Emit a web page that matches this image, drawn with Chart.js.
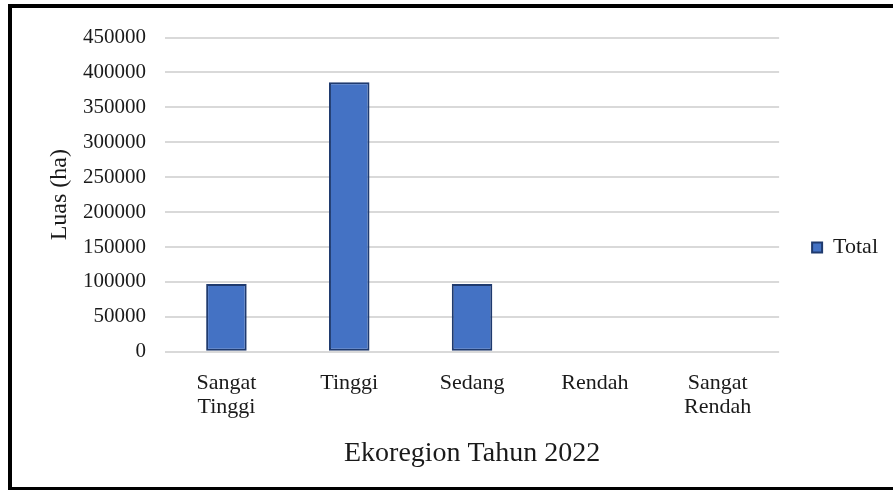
<!DOCTYPE html>
<html lang="id">
<head>
    <meta charset="UTF-8">
    <title>Ekoregion Tahun 2022</title>
    <script src="https://cdn.jsdelivr.net/npm/chart.js"></script>
    <style>
        body {
            margin: 0;
            overflow: hidden;
            background: #fff;
        }
        #frame {
            position: absolute;
            left: 8px;
            top: 4px;
            width: 900px;
            height: 479px;
            border: 4px solid #000;
            border-bottom-width: 3px;
        }
        #barChart {
            display: block;
        }
    </style>
</head>
<body>
    <div id="frame">
        <canvas id="barChart" width="881" height="479"></canvas>
    </div>
    <script>
        // Data
        var categories = [['Sangat', 'Tinggi'], 'Tinggi', 'Sedang', 'Rendah', ['Sangat', 'Rendah']];
        var luasValues = [97000, 386000, 97000, 0, 0];
        var seriesName = 'Total';
        var yMin = 0;
        var yMax = 450000;
        var yStep = 50000;

        var serif = '"Liberation Serif", "Times New Roman", serif';
        var textColor = '#1a1a1a';

        var ctx = document.getElementById('barChart').getContext('2d');
        var chart = new Chart(ctx, {
            type: 'bar',
            data: {
                labels: categories,
                datasets: [{
                    label: seriesName,
                    data: luasValues,
                    backgroundColor: '#4472C4',
                    borderColor: '#1F3A6E',
                    borderWidth: 2,
                    borderSkipped: false,
                    categoryPercentage: 1,
                    barPercentage: 0.33
                }]
            },
            options: {
                responsive: false,
                animation: false,
                layout: { padding: { top: 0, left: 0, right: 5, bottom: 0 } },
                plugins: {
                    tooltip: { enabled: false },
                    legend: {
                        position: 'right',
                        labels: {
                            boxWidth: 10,
                            boxHeight: 10,
                            padding: 33,
                            color: textColor,
                            font: { family: serif, size: 22 }
                        }
                    }
                },
                scales: {
                    x: {
                        grid: { display: false },
                        border: { display: false },
                        ticks: {
                            color: textColor,
                            padding: 12,
                            maxRotation: 0,
                            autoSkip: false,
                            font: { family: serif, size: 22, lineHeight: 1.08 }
                        },
                        title: {
                            display: true,
                            text: 'Ekoregion Tahun 2022',
                            color: textColor,
                            padding: { top: 0, bottom: 16.7 },
                            font: { family: serif, size: 28 }
                        },
                        afterFit: function (scale) {
                            scale.height = 135.2;
                        }
                    },
                    y: {
                        min: yMin,
                        max: yMax,
                        grid: { color: '#d9d9d9', lineWidth: 2, drawTicks: false },
                        border: { display: false },
                        ticks: {
                            stepSize: yStep,
                            autoSkip: false,
                            padding: 19,
                            color: textColor,
                            font: { family: serif, size: 21, lineHeight: 1.0 },
                            callback: function (value) { return String(value); }
                        },
                        title: {
                            display: true,
                            text: 'Luas (ha)',
                            color: textColor,
                            padding: { top: 33.6, bottom: 0 },
                            font: { family: serif, size: 24 }
                        },
                        afterFit: function (scale) {
                            scale.width = 153;
                        }
                    }
                }
            }
        });
    </script>
</body>
</html>
